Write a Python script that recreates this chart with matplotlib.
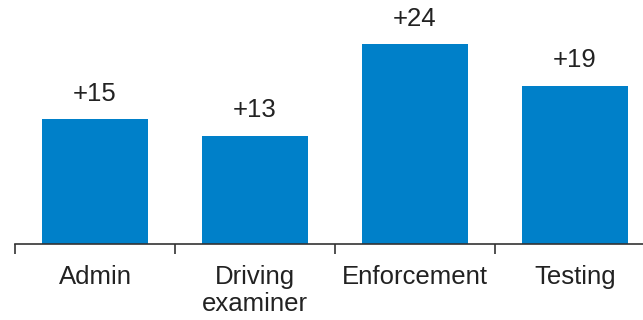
import numpy as np
import matplotlib.pyplot as plt

plt.rcParams['font.family'] = ['Liberation Sans', 'DejaVu Sans']

categories = ['Admin', 'Driving\nexaminer', 'Enforcement', 'Testing']
values = [15, 13, 24, 19]
labels = ['+15', '+13', '+24', '+19']

fig = plt.figure(figsize=(6.43, 3.2), dpi=100)
ax = fig.add_axes([15 / 643, 76 / 320, 628 / 643, 244 / 320])

x = np.arange(len(categories))
bars = ax.bar(x, values, width=0.66, color='#0080c9')

for b, lab in zip(bars, labels):
    ax.text(b.get_x() + b.get_width() / 2, b.get_height() + 1.6, lab,
            ha='center', va='bottom', fontsize=18.5, color='#222222')

ax.set_xlim(-0.5, 3.425)
ax.set_ylim(0, 29.3)

for s in ['top', 'right', 'left']:
    ax.spines[s].set_visible(False)
ax.spines['bottom'].set_color('#333333')
ax.spines['bottom'].set_linewidth(1.2)

ax.set_yticks([])
ax.set_xticks(x)
ax.set_xticklabels(categories, fontsize=18.5, color='#222222', linespacing=1.15)
ax.tick_params(axis='x', which='major', length=0, pad=15)
ax.set_xticks(np.arange(-0.5, 3, 1), minor=True)
ax.tick_params(axis='x', which='minor', length=7, width=1.2, color='#333333')

fig.savefig('out.png', dpi=100)
